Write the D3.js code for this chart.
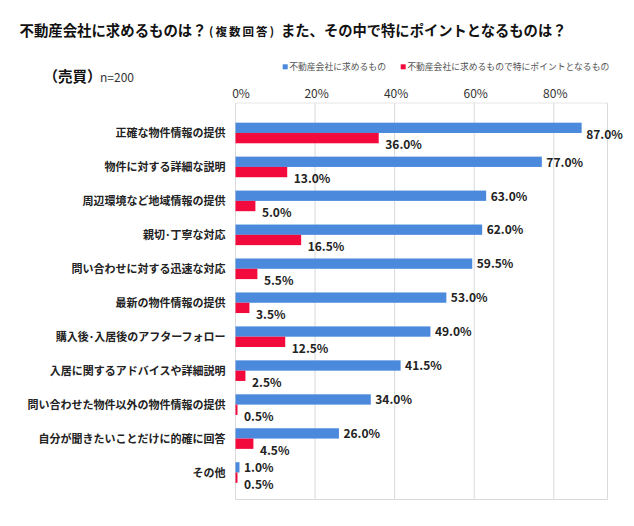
<!DOCTYPE html>
<html><head><meta charset="utf-8">
<script src="https://cdn.jsdelivr.net/npm/d3@7"></script>
<style>
html,body{margin:0;padding:0;background:#fff;}
svg{display:block;font-family:"Noto Sans CJK JP","Noto Sans",sans-serif;}
</style></head>
<body>
<svg id="chart" width="634" height="526"></svg>
<script>
const categories = [
  "正確な物件情報の提供",
  "物件に対する詳細な説明",
  "周辺環境など地域情報の提供",
  "親切･丁寧な対応",
  "問い合わせに対する迅速な対応",
  "最新の物件情報の提供",
  "購入後･入居後のアフターフォロー",
  "入居に関するアドバイスや詳細説明",
  "問い合わせた物件以外の物件情報の提供",
  "自分が聞きたいことだけに的確に回答",
  "その他"
];
const seriesNames = ["不動産会社に求めるもの", "不動産会社に求めるもので特にポイントとなるもの"];
const wanted = [87.0, 77.0, 63.0, 62.0, 59.5, 53.0, 49.0, 41.5, 34.0, 26.0, 1.0];
const keyPoint = [36.0, 13.0, 5.0, 16.5, 5.5, 3.5, 12.5, 2.5, 0.5, 4.5, 0.5];
const tickValues = [0, 20, 40, 60, 80];
const colors = ["#4a89dc", "#f20a3c"];

const svg = d3.select("#chart");
const pLeft = 235.5, pRight = 607.5, pTop = 103, pBottom = 499.5;

const x = d3.scaleLinear().domain([0, 93.5]).range([pLeft, pRight]);
const y = d3.scaleBand().domain(categories).range([116.3, 489.8]).paddingInner(0).paddingOuter(0);
const barH = 10.3;

// title
const title = svg.append("text").attr("y", 36)
  .attr("font-size", 14.3).attr("font-weight", "bold").attr("fill", "#111");
title.append("tspan").attr("x", 19.5).attr("font-size", 14.4).text("不動産会社に求めるものは？");
title.append("tspan").attr("x", 209).attr("font-size", 11.5)
  .attr("textLength", 65).attr("lengthAdjust", "spacing").text("(複数回答)");
title.append("tspan").attr("x", 281).text("また、その中で特にポイントとなるものは？");

// subtitle
const sub = svg.append("text").attr("x", 43.5).attr("y", 81.5).attr("fill", "#111");
sub.append("tspan").attr("font-size", 14.5).attr("font-weight", "bold").text("（売買）");
sub.append("tspan").attr("x", 100).attr("font-size", 12).attr("fill", "#333").text("n=200");

// legend
const legendX = [282.7, 400.7];
seriesNames.forEach((n, i) => {
  svg.append("rect").attr("x", legendX[i]).attr("y", 64.3).attr("width", 5).attr("height", 5).attr("fill", colors[i]);
  svg.append("text").attr("x", legendX[i] + 6.5).attr("y", 70.3).attr("font-size", 8.8)
    .attr("fill", "#555").text(n);
});

// grid
const grid = svg.append("g");
tickValues.forEach(t => {
  grid.append("line").attr("x1", x(t)).attr("x2", x(t)).attr("y1", pTop).attr("y2", pBottom)
    .attr("stroke", "#d9d9d9").attr("stroke-width", 1);
});
grid.append("line").attr("x1", pRight).attr("x2", pRight).attr("y1", pTop).attr("y2", pBottom).attr("stroke", "#d9d9d9");
grid.append("line").attr("x1", pLeft).attr("x2", pRight).attr("y1", pBottom).attr("y2", pBottom).attr("stroke", "#d9d9d9");
grid.append("line").attr("x1", pLeft).attr("x2", pRight).attr("y1", pTop).attr("y2", pTop).attr("stroke", "#e6e6e6");

// top axis labels
const xAxis = d3.axisTop(x).tickValues(tickValues).tickFormat(d => d + "%").tickSize(0).tickPadding(0);
const ax = svg.append("g").attr("transform", `translate(0,${pTop - 5})`).call(xAxis);
ax.select(".domain").remove();
ax.selectAll("text").attr("font-size", 12).attr("fill", "#333")
  .attr("font-family", "'Noto Sans CJK JP', sans-serif")
  .attr("dx", (d, i) => i === 0 ? 5 : 1);

// category labels
svg.append("g").selectAll("text").data(categories).join("text")
  .attr("x", 225.5).attr("y", d => y(d) + y.bandwidth() / 2)
  .attr("dy", "0.36em").attr("text-anchor", "end")
  .attr("font-size", 11).attr("font-weight", "bold").attr("fill", "#222")
  .text(d => d);

// bars
const barsG = svg.append("g");
const series = [wanted, keyPoint];
series.forEach((vals, si) => {
  barsG.selectAll(null).data(vals).join("rect")
    .attr("x", x(0))
    .attr("y", (d, i) => y(categories[i]) + y.bandwidth() / 2 - 0.3 + (si === 0 ? -barH : 0))
    .attr("width", d => x(d) - x(0))
    .attr("height", barH)
    .attr("fill", colors[si]);
});

// value labels
const labG = svg.append("g");
series.forEach((vals, si) => {
  labG.selectAll(null).data(vals).join("text")
    .attr("x", d => x(d) + (si === 0 ? 4.5 : 6.5))
    .attr("y", (d, i) => {
      const c = y(categories[i]) + y.bandwidth() / 2;
      if (si === 0) return x(d) + 38 > pRight ? c + 1 : c - 5;
      return c + 11.5;
    })
    .attr("dy", "0.36em")
    .attr("font-size", 12).attr("font-weight", "bold").attr("fill", "#222")
    .text(d => d.toFixed(1) + "%");
});
</script>
</body></html>
